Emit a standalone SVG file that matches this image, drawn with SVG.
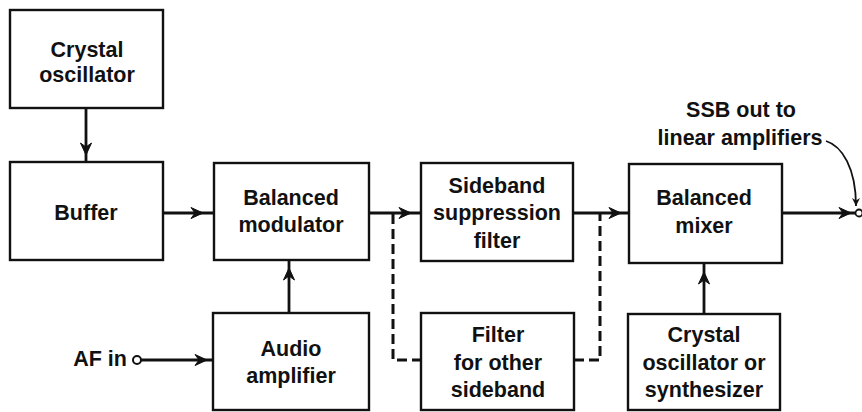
<svg xmlns="http://www.w3.org/2000/svg" width="862" height="412" viewBox="0 0 862 412">
<style>
.box{fill:#fff;stroke:#111;stroke-width:2.4}
.t{font-family:"Liberation Sans",Arial,sans-serif;font-weight:bold;font-size:21.5px;fill:#111;text-anchor:middle}
.w{stroke:#111;stroke-width:2.8;fill:none}
.d{stroke:#111;stroke-width:3;fill:none;stroke-dasharray:10 5}
</style>
<defs>
<marker id="ah" markerUnits="userSpaceOnUse" markerWidth="18" markerHeight="14" refX="14" refY="7" orient="auto" viewBox="0 0 18 14">
<path d="M2,1.5 L14,7 L2,12.5 L6,7 Z" fill="#111" stroke="#111" stroke-width="1" stroke-linejoin="miter"/>
</marker>
<marker id="sa" markerUnits="userSpaceOnUse" markerWidth="12" markerHeight="10" refX="9" refY="5" orient="auto" viewBox="0 0 12 10">
<path d="M1,1 L9,5 L1,9 L3.5,5 Z" fill="#111"/>
</marker>
</defs>

<g id="connectors">
<path class="w" d="M86,108 V155 V162" marker-mid="url(#ah)"/>
<path class="w" d="M163,213 H203 H214" marker-mid="url(#ah)"/>
<path class="w" d="M369,213 H411 H421" marker-mid="url(#ah)"/>
<path class="w" d="M573,213 H621 H629" marker-mid="url(#ah)"/>
<path class="w" d="M782,213 H851 H855.5" marker-mid="url(#ah)"/>
<circle cx="859" cy="213" r="3.5" fill="#fff" stroke="#111" stroke-width="1.8"/>
<path class="w" d="M289,313 V268 V260" marker-mid="url(#ah)"/>
<path class="w" d="M704,314 V272 V263" marker-mid="url(#ah)"/>
<circle cx="137" cy="360" r="4" fill="#fff" stroke="#111" stroke-width="2"/>
<path class="w" d="M141,360 H207 H213" marker-mid="url(#ah)"/>
<path class="d" d="M393,214 V360 H421"/>
<path class="d" d="M574,360 H600 V214"/>
<path d="M826,141 C842,146 856,168 856,206" fill="none" stroke="#111" stroke-width="1.8" marker-end="url(#sa)"/>
</g>

<g id="crystal-oscillator">
<rect class="box" x="10" y="10" width="153" height="98"/>
<text class="t" x="87" y="57">Crystal</text>
<text class="t" x="87" y="82">oscillator</text>
</g>
<g id="buffer">
<rect class="box" x="10" y="162" width="153" height="98"/>
<text class="t" x="86" y="220">Buffer</text>
</g>
<g id="balanced-modulator">
<rect class="box" x="214" y="163" width="155" height="97"/>
<text class="t" x="291" y="205">Balanced</text>
<text class="t" x="291" y="232">modulator</text>
</g>
<g id="sideband-suppression-filter">
<rect class="box" x="421" y="163" width="152" height="98"/>
<text class="t" x="497" y="193">Sideband</text>
<text class="t" x="497" y="220">suppression</text>
<text class="t" x="497" y="248">filter</text>
</g>
<g id="balanced-mixer">
<rect class="box" x="629" y="164" width="153" height="99"/>
<text class="t" x="704" y="205">Balanced</text>
<text class="t" x="704" y="233">mixer</text>
</g>
<g id="audio-amplifier">
<rect class="box" x="213" y="313" width="156" height="97"/>
<text class="t" x="291" y="356">Audio</text>
<text class="t" x="291" y="383">amplifier</text>
</g>
<g id="filter-other-sideband">
<rect class="box" x="421" y="313" width="153" height="97"/>
<text class="t" x="498" y="342">Filter</text>
<text class="t" x="498" y="370">for other</text>
<text class="t" x="498" y="397">sideband</text>
</g>
<g id="crystal-oscillator-synthesizer">
<rect class="box" x="628" y="314" width="152" height="96"/>
<text class="t" x="704" y="342">Crystal</text>
<text class="t" x="704" y="370">oscillator or</text>
<text class="t" x="704" y="397">synthesizer</text>
</g>
<g id="af-in">
<text class="t" x="100" y="366">AF in</text>
</g>
<g id="ssb-out-label">
<text class="t" x="741" y="117">SSB out to</text>
<text class="t" x="740" y="145">linear amplifiers</text>
</g>
</svg>
